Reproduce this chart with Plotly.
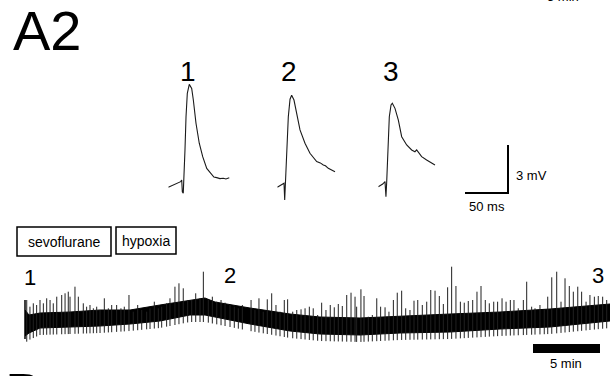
import numpy as np
import plotly.graph_objects as go

W, H = 610, 376
FONT = "Liberation Sans, Arial, sans-serif"

# ---------------- data: single evoked responses (ms, mV rel. baseline) ----
ap1_t = [0, 5.8, 11.6, 14.4, 15.6, 16.3, 17.4, 18.3, 19.4, 20.6, 22.1, 24.4, 27.2, 29.1,
         32.2, 36.0, 40.0, 44.7, 50.5, 53.0, 56.3, 60.0, 64.0, 67.0, 70.9]
ap1_v = [-0.14, 0.0, 0.11, 0.21, 0.31, -0.42, -0.52, 0.52, 2.19, 4.27, 5.73, 6.29, 6.04, 5.31,
         3.86, 2.61, 1.77, 1.04, 0.62, 0.50, 0.46, 0.40, 0.42, 0.38, 0.46]
ap2_t = [0, 5.1, 7.8, 8.6, 9.3, 10.9, 12.8, 14.8, 16.7, 19.4, 22.5, 26.4, 32.2, 38.0,
         45.8, 50.0, 53.5, 56.0, 59.3, 63.0, 67.1]
ap2_v = [-0.14, 0.0, 0.11, -0.94, 0.11, 2.19, 4.27, 5.36, 5.61, 5.31, 4.48, 3.44, 2.61, 1.98,
         1.46, 1.38, 1.25, 1.20, 1.04, 0.95, 0.83]
ap3_t = [0, 5.1, 7.8, 8.9, 9.7, 11.3, 12.8, 14.8, 16.3, 19.4, 23.3, 27.2, 33.0, 38.8,
         42.6, 44.6, 50.4, 56.2, 62.0, 65.9]
ap3_v = [-0.11, 0.06, 0.21, -0.73, 0.11, 2.19, 4.27, 5.0, 5.11, 4.79, 4.06, 3.02, 2.5, 2.19,
         2.08, 2.19, 1.77, 1.56, 1.35, 1.25]
ap_labels = ["1", "2", "3"]

# scale bars
bar_ms, bar_mv, bar_min = 50, 3, 5

# ---------------- data: long recording (min, mV) ----------------
band_t = [0, 0.3, 1.12, 3.36, 5.60, 7.84, 10.07, 12.31, 13.43, 14.18, 16.79, 19.78, 22.01,
          25.0, 27.99, 31.72, 35.45, 39.18, 43.66]
band_top = [2.0, 1.5, 1.7, 1.8, 2.0, 2.0, 2.5, 3.0, 3.2, 2.8, 2.2, 1.6, 1.3, 1.2, 1.4, 1.6,
            1.8, 2.1, 2.6]
band_bot = [-0.6, -0.3, 0.2, 0.3, 0.4, 0.6, 0.9, 1.5, 1.5, 1.3, 0.6, -0.1, -0.4, -0.5, -0.3,
            -0.2, 0.1, 0.3, 0.9]

spike_t = [0.13, 0.37, 0.62, 0.87, 1.12, 1.37, 1.62, 1.87, 2.11, 2.37, 2.74, 2.99, 3.23,
           3.36, 3.73, 3.98, 4.35, 4.60, 4.85, 5.10, 5.35, 5.60, 5.92, 6.22, 6.47,
           6.84, 7.16, 7.41, 7.76, 8.08, 8.41, 8.71, 9.08, 9.33, 9.65, 9.95, 10.20, 10.57,
           10.82, 11.19, 11.49, 11.81, 12.14, 12.44, 12.74, 13.06, 13.31, 13.68, 13.98,
           14.31, 14.63, 14.93, 15.30, 15.62, 15.92, 16.22, 16.87, 17.16, 17.46, 17.78,
           18.08, 18.41, 18.73, 19.03, 19.35, 19.60, 19.98, 20.28, 20.60, 20.90, 21.22, 21.51,
           21.84, 22.14, 22.46, 22.78, 23.08, 23.38, 23.68, 24.01, 24.33, 24.63, 24.75,
           25.07, 25.30, 25.62, 25.92, 26.25, 26.54, 26.87, 27.16, 27.49, 27.78, 28.11,
           28.41, 28.73, 29.03,
           29.31, 29.65, 29.98, 30.28, 30.60, 30.92, 31.22, 31.54, 31.84, 32.16, 32.49,
           32.78, 33.08, 33.41, 33.73, 34.03, 34.35, 34.65, 34.98, 35.27, 35.60, 35.90,
           36.22, 36.49,
           36.81, 37.19, 37.44, 37.81, 38.06, 38.43, 38.75, 39.01, 39.31, 39.68, 40.00,
           40.30, 40.62, 40.92, 41.25, 41.54, 41.87, 42.16, 42.49, 42.78, 43.11, 43.41]
spike_v = [3.0, 2.33, 2.67, 2.5, 3.0, 2.67, 3.17, 3.0, 2.67, 3.33, 3.5, 3.67, 3.83,
           3.33, 4.33, 3.33, 2.67, 2.33, 2.5, 2.17, 2.33, 2.0, 3.17, 2.17, 2.5,
           2.5, 2.17, 2.33, 3.5, 1.83, 2.5, 2.0, 1.83, 2.17, 2.83, 2.17, 2.33, 2.67,
           3.17, 4.33, 4.67, 4.17, 3.0, 3.0, 3.67, 3.17, 5.83, 3.0, 3.33,
           2.83, 3.0, 2.73, 2.5, 2.33, 2.17, 2.5, 3.0, 2.0, 3.17, 1.83,
           3.07, 3.67, 2.5, 1.83, 3.0, 3.07, 1.83, 2.0, 2.07, 2.17, 2.33, 2.17,
           1.5, 2.73, 2.0, 2.5, 2.27, 2.6, 2.4, 3.5, 3.73, 3.33, 2.33,
           4.07, 3.4, 1.33, 1.5, 3.17, 2.33, 2.27, 1.83, 3.0, 3.73, 3.93,
           2.17, 2.0, 2.93,
           3.0, 2.5, 2.83, 4.0, 3.93, 3.4, 2.6, 4.27, 6.33, 4.4, 2.83,
           2.73, 2.9, 3.0, 3.83, 4.4, 3.0, 2.67, 2.83, 2.83, 3.17, 2.83,
           3.0, 3.0,
           2.17, 3.0, 4.83, 2.33, 2.17, 2.5, 2.0, 3.33, 5.27, 5.83, 2.83,
           5.17, 4.4, 3.83, 4.33, 3.83, 2.83, 3.5, 3.33, 3.4, 3.33, 3.0]
trace_labels = ["1", "2", "3"]
conditions = ["sevoflurane", "hypoxia"]


# ---------------- helpers for pixel layout ----------------
def px(x):
    return x / W


def py(y):
    return 1 - y / H


fig = go.Figure()
layout = dict(width=W, height=H, margin=dict(l=0, r=0, t=0, b=0),
              paper_bgcolor="white", plot_bgcolor="rgba(0,0,0,0)",
              showlegend=False, font=dict(family=FONT, color="black"))


def add_axis(n, xdom_px, ydom_px, xr, yr):
    xa = "xaxis" if n == 1 else f"xaxis{n}"
    ya = "yaxis" if n == 1 else f"yaxis{n}"
    anchor_x = "x" if n == 1 else f"x{n}"
    anchor_y = "y" if n == 1 else f"y{n}"
    layout[xa] = dict(domain=[px(xdom_px[0]), px(xdom_px[1])], range=xr, visible=False,
                      anchor=anchor_y, fixedrange=True)
    layout[ya] = dict(domain=[py(ydom_px[1]), py(ydom_px[0])], range=yr, visible=False,
                      anchor=anchor_x, fixedrange=True)
    return anchor_x, anchor_y


# long trace axis: 13.4 px / min, 10 px / mV
ax1 = add_axis(1, (15, 610), (250, 360), [-0.746, 43.657], [-3, 8])

# AP axes: 43 px / 50 ms, 16 px / mV
ms_per_px = 50 / 43
ap_y_range = [(185 - 215) / 16, (185 - 60) / 16]
ap_starts = [168.3, 277.3, 378.3]
ap_axes = []
for i, s in enumerate(ap_starts):
    ap_axes.append(add_axis(i + 2, (s, s + 85), (60, 215), [0, 85 * ms_per_px], ap_y_range))

# scale bar axis (AP)
sb = add_axis(5, (460.7, 512.3), (140.2, 197.8), [-5, 55], [-0.3, 3.3])
# time bar axis
tb = add_axis(6, (526.3, 606.7), (338.5, 358.5), [-0.5, 5.5], [-1, 1])

# ---------------- long trace ----------------
fig.add_trace(go.Scatter(x=band_t, y=band_bot, mode="lines", line=dict(color="black", width=1),
                         xaxis=ax1[0], yaxis=ax1[1], hoverinfo="skip"))
fig.add_trace(go.Scatter(x=band_t, y=band_top, mode="lines", line=dict(color="black", width=1),
                         fill="tonexty", fillcolor="black",
                         xaxis=ax1[0], yaxis=ax1[1], hoverinfo="skip"))
# each event drawn as a full vertical deflection crossing the noisy band
feet = np.interp(spike_t, band_t, band_bot) - 0.7
sx, sy = [], []
for t, v, f in zip(spike_t, spike_v, feet):
    sx += [t, t, None]
    sy += [f, v, None]
fig.add_trace(go.Scatter(x=sx, y=sy, mode="lines", line=dict(color="#202020", width=1),
                         xaxis=ax1[0], yaxis=ax1[1], hoverinfo="skip"))
# start artifact
fig.add_trace(go.Scatter(x=[band_t[0], band_t[0]], y=[band_bot[0] - 0.3, spike_v[0]], mode="lines",
                         line=dict(color="black", width=1.5),
                         xaxis=ax1[0], yaxis=ax1[1], hoverinfo="skip"))

# ---------------- AP sweeps ----------------
for (axx, axy), (t, v) in zip(ap_axes, [(ap1_t, ap1_v), (ap2_t, ap2_v), (ap3_t, ap3_v)]):
    fig.add_trace(go.Scatter(x=t, y=v, mode="lines", line=dict(color="#1a1a1a", width=1.1),
                             xaxis=axx, yaxis=axy, hoverinfo="skip"))

# scale bars
fig.add_trace(go.Scatter(x=[0, bar_ms, bar_ms], y=[0, 0, bar_mv], mode="lines",
                         line=dict(color="black", width=2),
                         xaxis=sb[0], yaxis=sb[1], hoverinfo="skip"))
fig.add_trace(go.Scatter(x=[0, bar_min], y=[0, 0], mode="lines",
                         line=dict(color="black", width=9),
                         xaxis=tb[0], yaxis=tb[1], hoverinfo="skip"))

# ---------------- texts ----------------
ann = []


def text(s, x, y, size, xanchor="center"):
    ann.append(dict(text=s, x=px(x), y=py(y), xref="paper", yref="paper", showarrow=False,
                    xanchor=xanchor, yanchor="middle", font=dict(size=size, family=FONT, color="black")))


text("A2", 11, 31, 56, "left")
text("B", 3, 392, 56, "left")
for lab, cx in zip(ap_labels, [188, 289, 391]):
    text(lab, cx, 71, 28)
text(f"{bar_mv} mV", 514, 175, 13, "left")
text(f"{bar_ms} ms", 487, 207, 13)
for lab, (cx, cy) in zip(trace_labels, [(30, 277), (230, 275), (598, 275)]):
    text(lab, cx, cy, 22)
text(f"{bar_min} min", 566, 363, 13)
text(f"{bar_min} min", 563, -3, 13)

boxes = [(17, 227, 111, 256), (116, 227, 176, 254)]
shapes = []
for lab, (x0, y0, x1, y1) in zip(conditions, boxes):
    shapes.append(dict(type="rect", xref="paper", yref="paper", x0=px(x0), x1=px(x1),
                       y0=py(y1), y1=py(y0), line=dict(color="black", width=1.5)))
    text(lab, (x0 + x1) / 2, (y0 + y1) / 2, 14)

layout["annotations"] = ann
layout["shapes"] = shapes
fig.update_layout(**layout)
fig.write_html("out.html")
